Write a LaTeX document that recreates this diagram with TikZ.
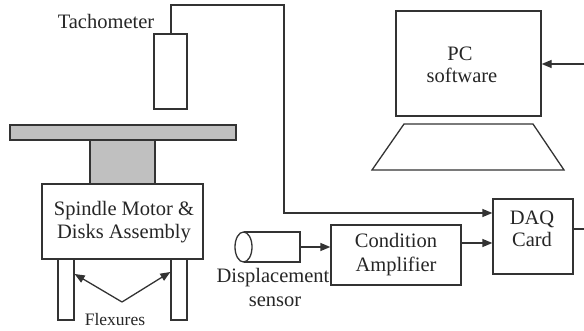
\documentclass[tikz,border=0pt]{standalone}
\usepackage{fontspec}
\setmainfont{Liberation Serif}
\usetikzlibrary{arrows.meta}
\definecolor{ink}{HTML}{333333}
\definecolor{metal}{HTML}{C0C0C0}
\begin{document}
\begin{tikzpicture}[x=1pt,y=-1pt,
  line width=1.3pt, draw=ink,
  blk/.style={draw=ink, fill=white, rectangle, inner sep=0pt},
  txt/.style={anchor=base, inner sep=0pt, text=black!85, font=\fontsize{20.5}{24}\selectfont},
  small/.style={anchor=base, inner sep=0pt, text=black!85, font=\fontsize{17.5}{21}\selectfont},
  tip/.style={-{Triangle[length=10pt,width=8pt]}, draw=ink}]
\useasboundingbox (0,0) rectangle (584,331);

% tachometer probe
\node[blk, minimum width=33pt, minimum height=75pt] (tach) at (170.5,71.5) {};
\node[txt] (tachl) at (106,29) {Tachometer};

% disk platter and spindle
\node[blk, fill=metal, minimum width=226pt, minimum height=15pt] (platter) at (123,132.5) {};
\node[blk, fill=metal, minimum width=65pt, minimum height=44pt] (spindle) at (122.5,162) {};

% motor assembly on its flexures
\node[blk, minimum width=16pt, minimum height=61pt] (legl) at (66,289.5) {};
\node[blk, minimum width=16pt, minimum height=61pt] (legr) at (179,289.5) {};
\node[blk, minimum width=161pt, minimum height=75pt] (motor) at (122.5,221.5) {};
\node[txt] (motorl1) at (124,216) {Spindle Motor \&};
\node[txt] (motorl2) at (124,239) {Disks Assembly};
\coordinate (fx) at (122,302);
\node[small] (flexl) at (115,326) {Flexures};
\draw[tip] (fx) -- (legl.east |- 0,274);
\draw[tip] (fx) -- (legr.west |- 0,272);

% PC with keyboard
\node[blk, minimum width=145pt, minimum height=105pt] (pc) at (468.5,63.5) {};
\node[txt] (pcl1) at (460,61) {PC};
\node[txt] (pcl2) at (462,83) {software};
\draw[ink] (404,124) -- (533,124) -- (564,170) -- (372,170) -- cycle;

% displacement sensor
\coordinate (sensend) at (300,247);
\draw[ink] (243.5,232) -- (300,232) -- (300,262) -- (243.5,262);
\draw[ink, fill=white] (243.5,247) ellipse [x radius=8.5pt, y radius=15pt];
\node[txt] (sensl1) at (273,283) {Displacement};
\node[txt] (sensl2) at (275,307) {sensor};

% signal conditioning and acquisition
\node[blk, minimum width=130pt, minimum height=60pt] (amp) at (396,255) {};
\node[txt] (ampl1) at (396,248) {Condition};
\node[txt] (ampl2) at (396,272) {Amplifier};
\node[blk, minimum width=80pt, minimum height=75pt] (daq) at (533,236.5) {};
\node[txt] (daql1) at (532,225) {DAQ};
\node[txt] (daql2) at (532,247) {Card};

% connections
\coordinate (edgeA) at (584,229);
\coordinate (edgeB) at (584,64);
\draw[tip] (tach.north -| 171,0) -- (171,5) -| (284,213) -- (daq.west |- 0,213);
\draw[tip] (sensend) -- (amp.west |- sensend);
\draw[tip] (amp.east |- 0,243) -- (daq.west |- 0,243);
\draw (daq.east |- edgeA) -- (edgeA);
\draw[tip] (edgeB) -- (pc.east |- edgeB);
\end{tikzpicture}
\end{document}
